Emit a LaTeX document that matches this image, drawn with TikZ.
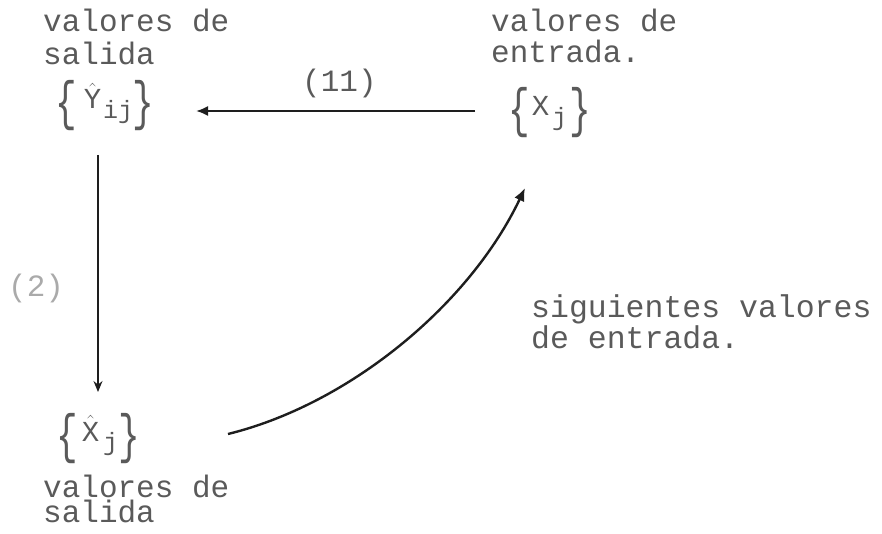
\documentclass[tikz,border=0pt]{standalone}
\usepackage{fontspec}
\usepackage{graphicx}
\setmonofont{Liberation Mono}
\usetikzlibrary{arrows.meta}
\definecolor{ink}{RGB}{90,90,90}
\definecolor{lineink}{RGB}{30,30,30}
\definecolor{faint}{RGB}{170,170,170}
\newcommand{\ttbig}[1]{\hbox{\fontsize{29}{29}\selectfont\ttfamily #1}}
\newcommand{\ttsub}[1]{\hbox{\fontsize{25}{25}\selectfont\ttfamily #1}}
\newcommand{\bracel}{\raisebox{-11pt}{\scalebox{1.2}[1.8]{\fontsize{30}{30}\selectfont\ttfamily\{}}}
\newcommand{\bracer}{\raisebox{-11pt}{\scalebox{1.2}[1.8]{\fontsize{30}{30}\selectfont\ttfamily\}}}}
\tikzset{
  lbl/.style={anchor=base west, inner sep=0pt, align=left, text=ink,
    font=\fontsize{31}{32}\selectfont\ttfamily},
  setnode/.style={inner sep=0pt, text=ink, font=\fontsize{30}{30}\selectfont, anchor=base west},
  conn/.style={draw=lineink, line width=1.6pt},
}
\begin{document}
\begin{tikzpicture}[x=1pt,y=-1pt]
\useasboundingbox (0,0) rectangle (882,534);
% labels (anchor = baseline of last line)
\node[lbl, font=\fontsize{31}{33}\selectfont\ttfamily] (lt) at (43,65) {valores de\\salida};
\node[lbl, font=\fontsize{31}{31}\selectfont\ttfamily] (rt) at (491,63) {valores de\\entrada.};
\node[lbl, font=\fontsize{31}{25}\selectfont\ttfamily] (lb) at (43,522) {valores de\\salida};
\node[lbl, font=\fontsize{31.5}{31}\selectfont\ttfamily] (rm) at (531,348) {siguientes valores\\de entrada.};
\node[lbl] (n11) at (302,92) {(11)};
\node[lbl, text=faint] (n2) at (8,296) {(2)};
% sets
\node[setnode] (Y) at (55,109) {\bracel\hspace{7pt}$\hat{\ttbig{Y}}_{\hspace{2pt}\ttsub{ij}}$\hspace{-1pt}\bracer};
\node[setnode] (X) at (508,116) {\bracel\hspace{2pt}$\ttbig{X}_{\hspace{3pt}\ttsub{j}}$\hspace{2pt}\bracer};
\node[setnode] (Xh) at (56,441) {\bracel\hspace{4pt}$\hat{\ttbig{X}}_{\hspace{4pt}\ttsub{j}}$\hspace{0pt}\bracer};
% connector ends
\coordinate (hs) at (475,111);
\coordinate (he) at (196,111);
\coordinate (vs) at (98,155);
\coordinate (ve) at (98,392);
\coordinate (cs) at (228,434);
\coordinate (ce) at (525,188);
% connectors
\draw[conn, line width=2pt, -{Latex[length=12pt,width=10pt]}] (hs) -- (he);
\draw[conn, line width=1.5pt, -{Stealth[length=11pt,width=9pt]}] (vs) -- (ve);
\draw[conn, line width=2.4pt, -{Latex[length=13pt,width=11pt]}] (cs) .. controls (350,404) and (470,304) .. (ce);
\end{tikzpicture}
\end{document}
